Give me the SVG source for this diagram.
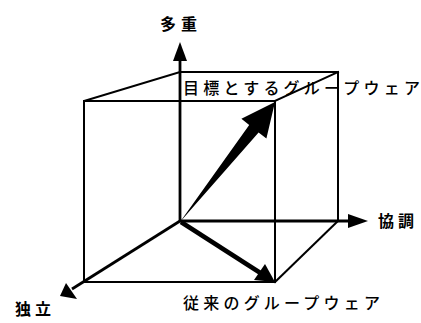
<svg xmlns="http://www.w3.org/2000/svg" width="421" height="323" viewBox="0 0 421 323">
<defs>
<style>
.edge{stroke:#000;stroke-width:2;fill:none;stroke-linecap:square}
.axis{stroke:#000;stroke-width:2.8;fill:none}
.head{fill:#000;stroke:none}
.lbl{font-family:"Noto Sans CJK JP","Noto Sans CJK SC",sans-serif;fill:#000}
.bold{font-weight:bold;font-size:16px}
.reg{font-size:16px;font-weight:500}
</style>
</defs>
<rect width="421" height="323" fill="#fff"/>
<g id="connectors">
<polyline class="edge" points="84,282 84,101 180,72 338,72 338,221"/>
<line class="edge" x1="84" y1="101" x2="275" y2="101"/>
<line class="edge" x1="275" y1="101" x2="338" y2="72"/>
<line class="edge" x1="275" y1="101" x2="275" y2="282"/>
<line class="edge" x1="84" y1="282" x2="275" y2="282"/>
<line class="edge" x1="275" y1="282" x2="338" y2="221"/>
<line class="axis" x1="180" y1="222" x2="180" y2="58"/>
<polygon class="head" points="180,42 173,61 187,61"/>
<line class="axis" x1="180" y1="221" x2="350" y2="221"/>
<polygon class="head" points="368,221 348,214 348,228"/>
<line class="axis" x1="180" y1="221" x2="72" y2="289"/>
<polygon class="head" points="60,296 66,283 77,299"/>
<line stroke="#000" stroke-width="4.5" x1="181" y1="222" x2="262" y2="274"/>
<polygon class="head" points="275,282 254,280 265,264"/>
<polygon class="head" points="180,222 258.6,132.4 266.4,138.6 275,102 241.4,118.8 249.2,125"/>
</g>
<g id="node-tajuu"><text class="lbl bold" x="160" y="30" textLength="37" lengthAdjust="spacing">多重</text></g>
<g id="node-kyouchou"><text class="lbl bold" x="378" y="227" textLength="36" lengthAdjust="spacing">協調</text></g>
<g id="node-dokuritsu"><text class="lbl bold" x="15" y="315" textLength="36" lengthAdjust="spacing">独立</text></g>
<g id="node-target"><text class="lbl reg" x="183" y="94" textLength="237" lengthAdjust="spacing">目標とするグループウェア</text></g>
<g id="node-conventional"><text class="lbl reg" x="183" y="309" textLength="197" lengthAdjust="spacing">従来のグループウェア</text></g>
</svg>
